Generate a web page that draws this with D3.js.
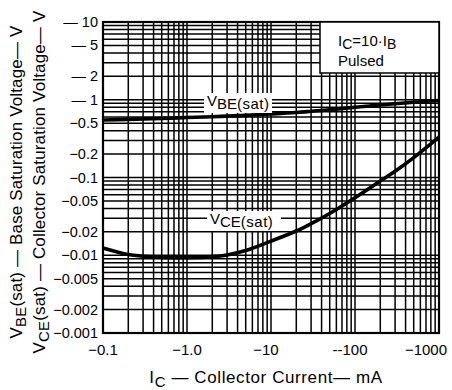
<!DOCTYPE html>
<html><head><meta charset="utf-8">
<script src="https://cdn.jsdelivr.net/npm/d3@7"></script>
<style>body{margin:0;background:#fff}svg{display:block}text{font-family:"Liberation Sans",Arial,sans-serif;fill:#000}</style>
</head><body><svg id="c" width="452" height="390"></svg>
<script>
const currents = [0.1,0.2,0.3,0.5,1,2,3,5,10,20,30,50,100,200,300,500,1000];
const vbeSat = [0.55,0.56,0.565,0.575,0.59,0.605,0.615,0.63,0.655,0.685,0.71,0.745,0.80,0.855,0.89,0.93,0.98];
const vceSat = [0.0124,0.0102,0.0097,0.0094,0.0093,0.0096,0.0101,0.0115,0.0152,0.0205,0.0255,0.0345,0.055,0.09,0.12,0.18,0.33];
const xTickVals = [0.1,1,10,100,1000];
const xTickLabels = ["\u22120.1","\u22121.0","\u221210","--100","\u22121000"];
const yTickVals = [10,5,2,1,0.5,0.2,0.1,0.05,0.02,0.01,0.005,0.002,0.001];
const yTickLabels = ["\u2014 10","\u2014 5","\u2014 2","\u2014 1","\u22120.5","\u22120.2","\u22120.1","\u22120.05","\u22120.02","\u22120.01","\u22120.005","\u22120.002","\u22120.001"];

const svg = d3.select("#c");
const L=103,R=439,T=22,B=333;
const x = d3.scaleLog().domain([0.1,1000]).range([L,R]);
const y = d3.scaleLog().domain([0.001,10]).range([B,T]);

// grid
const gx=[],gy=[];
for(let d=0.1;d<1000;d*=10) for(let k=1;k<10;k++) gx.push(+(d*k).toPrecision(3));
for(let d=0.001;d<10;d*=10) for(let k=1;k<10;k++) gy.push(+(d*k).toPrecision(3));
const g=svg.append("g");
g.selectAll(".vx").data(gx).join("line").attr("x1",d=>x(d)).attr("x2",d=>x(d)).attr("y1",T).attr("y2",B).attr("stroke","#000").attr("stroke-width",1.5);
g.selectAll(".hy").data(gy).join("line").attr("x1",L).attr("x2",R).attr("y1",d=>y(d)).attr("y2",d=>y(d)).attr("stroke","#000").attr("stroke-width",1.5);
svg.append("rect").attr("x",L).attr("y",T).attr("width",R-L).attr("height",B-T).attr("fill","none").attr("stroke","#000").attr("stroke-width",2.2);

// curves
const line=d3.line().x((d,i)=>x(currents[i])).y(d=>y(d)).curve(d3.curveCatmullRom.alpha(0.5));
svg.append("path").datum(vbeSat).attr("d",line).attr("fill","none").attr("stroke","#000").attr("stroke-width",3.6);
svg.append("path").datum(vceSat).attr("d",line).attr("fill","none").attr("stroke","#000").attr("stroke-width",3.6);

// legend box
svg.append("rect").attr("x",320).attr("y",T).attr("width",R-320).attr("height",51).attr("fill","#fff").attr("stroke","#000").attr("stroke-width",1.5);
const lt=svg.append("text").attr("x",338).attr("y",46).attr("font-size",15);
lt.append("tspan").text("I");
lt.append("tspan").text("C").attr("dy",3).attr("font-size",14);
lt.append("tspan").text("=10\u00b7I").attr("dy",-3);
lt.append("tspan").text("B").attr("dy",3).attr("font-size",14);
svg.append("text").attr("x",338).attr("y",66).attr("font-size",15).text("Pulsed");

// curve labels
function curveLabel(xp,yp,w,h,sub){
  svg.append("rect").attr("x",xp).attr("y",yp).attr("width",w).attr("height",h).attr("fill","#fff");
  const t=svg.append("text").attr("x",xp+3).attr("y",yp+h-5).attr("font-size",15);
  t.append("tspan").text("V").attr("dy",-2);
  t.append("tspan").text(sub).attr("dy",3);
  t.append("tspan").text("(sat)").attr("letter-spacing",0.5);
}
curveLabel(204,93,68,20,"BE");
curveLabel(207,211,74,20,"CE");

// ticks
svg.selectAll(".xt").data(xTickVals).join("text").attr("x",(d,i)=>x(d)-(i===4?13:i>=2?5:0)).attr("y",355).attr("text-anchor","middle").attr("font-size",15).text((d,i)=>xTickLabels[i]);
svg.selectAll(".yt").data(yTickVals).join("text").attr("x",98).attr("y",d=>y(d)+5).attr("text-anchor","end").attr("font-size",14.5).text((d,i)=>yTickLabels[i]);

// axis titles
const xt=svg.append("text").attr("x",266).attr("y",383).attr("text-anchor","middle").attr("font-size",17).attr("letter-spacing",0.6);
xt.append("tspan").text("I");
xt.append("tspan").text("C").attr("dy",4).attr("font-size",15);
xt.append("tspan").text(" \u2014 Collector  Current\u2014 mA").attr("dy",-4);

function yTitle(xp,sub,rest){
  const t=svg.append("text").attr("transform",`translate(${xp},182) rotate(-90)`).attr("text-anchor","middle").attr("font-size",17).attr("letter-spacing",0.15);
  t.append("tspan").text("V");
  t.append("tspan").text(sub).attr("dy",4).attr("font-size",15);
  t.append("tspan").text("(sat)").attr("dy",-4);
  t.append("tspan").text(rest);
}
yTitle(22,"BE"," \u2014 Base  Saturation  Voltage\u2014 V");
yTitle(45,"CE"," \u2014 Collector  Saturation  Voltage\u2014 V");
</script></body></html>
